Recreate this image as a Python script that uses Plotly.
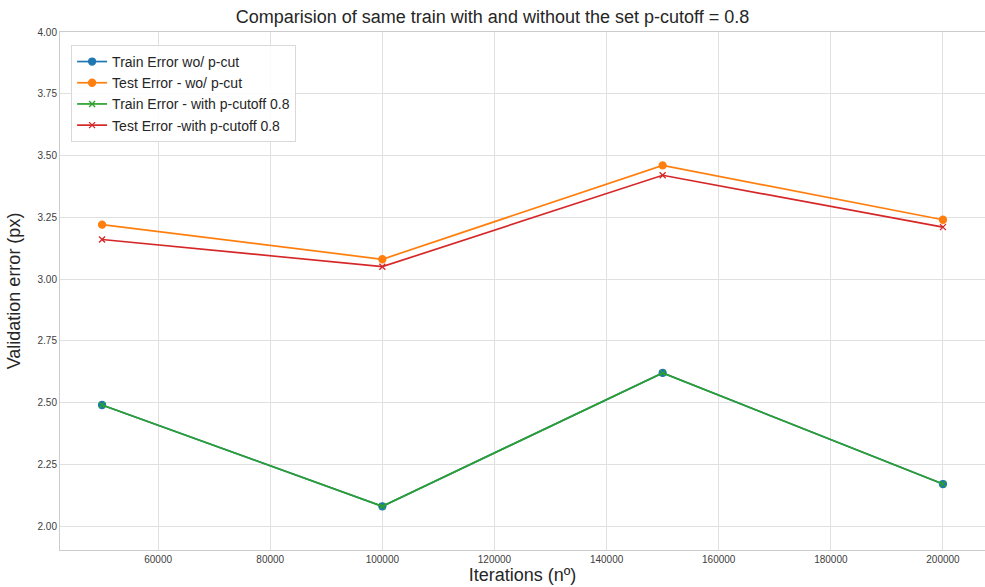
import plotly.graph_objects as go

iterations = [50000, 100000, 150000, 200000]
train_wo = [2.49, 2.08, 2.62, 2.17]
test_wo = [3.22, 3.08, 3.46, 3.24]
train_with = [2.49, 2.08, 2.62, 2.17]
test_with = [3.16, 3.05, 3.42, 3.21]

names = ["Train Error wo/ p-cut", "Test Error - wo/ p-cut",
         "Train Error - with p-cutoff 0.8", "Test Error -with p-cutoff 0.8"]
colors = ["#1f77b4", "#ff7f0e", "#2ca02c", "#d62728"]
symbols = ["circle", "circle", "x-thin", "x-thin"]
series = [train_wo, test_wo, train_with, test_with]

fig = go.Figure()
for name, col, sym, ys in zip(names, colors, symbols, series):
    fig.add_trace(go.Scatter(
        x=iterations, y=ys, mode="lines+markers", name=name,
        line=dict(color=col, width=1.7),
        marker=dict(symbol=sym, size=7 if sym == "circle" else 6, color=col,
                    line=dict(color=col, width=1.3)),
    ))

font = "Liberation Sans, Arial, sans-serif"
fig.update_layout(
    width=985, height=587,
    margin=dict(l=60, r=0, t=32, b=37),
    paper_bgcolor="white", plot_bgcolor="white",
    font=dict(family=font, color="#262626"),
    title=dict(text="Comparision of same train with and without the set p-cutoff = 0.8",
               x=0.5, xanchor="center", y=0.983, yanchor="top",
               font=dict(size=18, color="#262626")),
    legend=dict(x=0.012, y=0.975, xanchor="left", yanchor="top",
                bgcolor="rgba(255,255,255,0.85)", bordercolor="#d9d9d9", borderwidth=1,
                font=dict(size=14, color="#262626"), tracegroupgap=0),
    showlegend=True,
)
fig.update_xaxes(
    range=[42500, 207500], tickvals=[60000, 80000, 100000, 120000, 140000, 160000, 180000, 200000],
    ticktext=["60000", "80000", "100000", "120000", "140000", "160000", "180000", "200000"],
    showgrid=True, gridcolor="#e0e0e0", gridwidth=1,
    showline=True, linecolor="#cccccc", linewidth=1, mirror=True,
    zeroline=False, ticks="", tickfont=dict(size=10, color="#404040"),
    title=dict(text="Iterations (nº)", font=dict(size=18, color="#262626"), standoff=4),
)
fig.update_yaxes(
    range=[1.903, 4.0], tickvals=[2.0, 2.25, 2.5, 2.75, 3.0, 3.25, 3.5, 3.75, 4.0],
    ticktext=["2.00", "2.25", "2.50", "2.75", "3.00", "3.25", "3.50", "3.75", "4.00"],
    showgrid=True, gridcolor="#e0e0e0", gridwidth=1,
    showline=True, linecolor="#cccccc", linewidth=1, mirror=True,
    zeroline=False, ticks="", tickfont=dict(size=10, color="#404040"),
    title=dict(text="Validation error (px)", font=dict(size=18, color="#262626"), standoff=12),
)

fig.write_html("out.html")
